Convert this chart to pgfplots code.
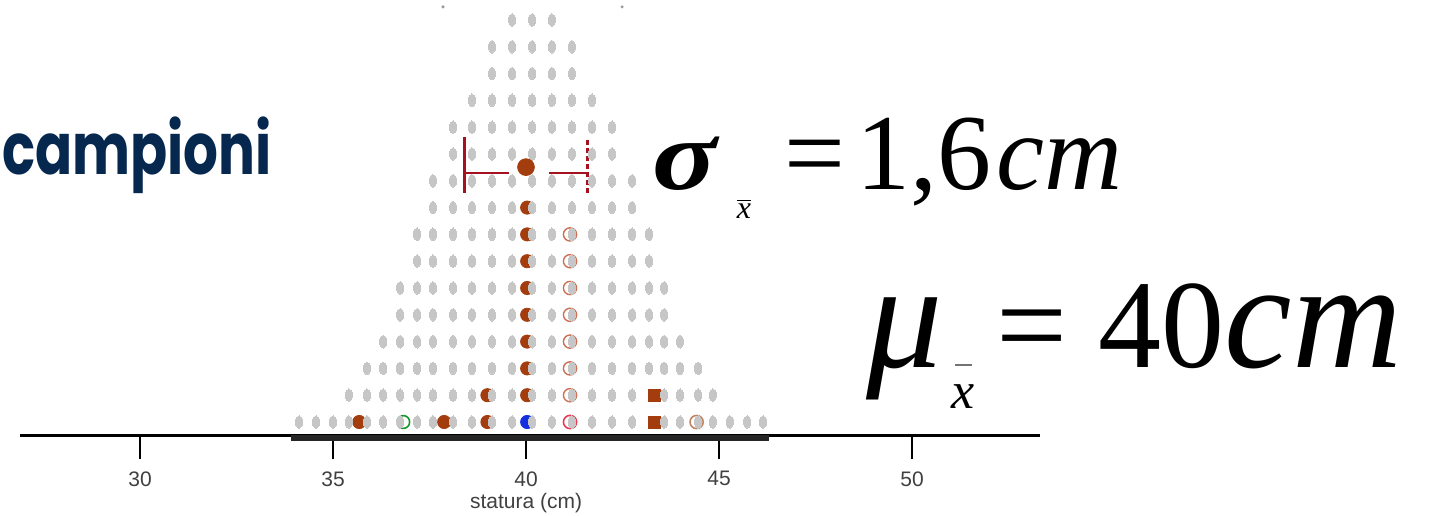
\documentclass[border=0pt]{standalone}
\usepackage{pgfplots}
\pgfplotsset{compat=1.18}
\usepackage{fontspec}
\setmainfont{Liberation Serif}
\newfontfamily\axisfont{Liberation Sans}
\newfontfamily\headfont{Poppins}

\definecolor{dotgray}{HTML}{C6C6C6}
\definecolor{rust}{HTML}{A33D0E}
\definecolor{barred}{HTML}{A3121E}
\definecolor{navy}{HTML}{06284F}
\definecolor{ringsalmon}{HTML}{CC7058}
\definecolor{ringred}{HTML}{E83A55}
\definecolor{ringtan}{HTML}{C08462}
\definecolor{ringgreen}{HTML}{139A2A}
\definecolor{meanblue}{HTML}{1530E0}

\begin{document}
\begin{tikzpicture}
\useasboundingbox (0,0) rectangle (715pt,257.5pt);

\begin{axis}[
  at={(10pt,39.8pt)}, anchor=south west,
  scale only axis, width=510pt, height=217.7pt,
  xmin=26.891, xmax=53.316, ymin=0.5, ymax=16.746,
  clip=false,
  axis x line=bottom, axis y line=none,
  x axis line style={-, line width=1.2pt, black},
  xtick={30,35,40,45,50}, ytick=\empty,
  tick align=outside, major tick length=12pt,
  x tick style={black, line width=1pt},
  /pgf/number format/assume math mode=true,
  xticklabel style={font=\axisfont\fontsize{10.5}{11}\selectfont, text=black!75, yshift=-2.5pt},
  xlabel={statura (cm)},
  xlabel style={font=\axisfont\fontsize{10.5}{11}\selectfont, text=black!75,
    at={(axis description cs:0.4962,0)}, anchor=center, yshift=-34pt},
]

% thick bar under the data range
\addplot[black!85, line width=3pt, forget plot] coordinates {(33.9,0.42) (46.3,0.42)};

% standard-error bar around the mean of the sample means
\addplot[barred, line width=1.4pt] coordinates {(38.4,9.55) (38.4,11.62)};
\addplot[barred, line width=1.4pt, dash pattern=on 2.6pt off 1.4pt] coordinates {(41.6,9.55) (41.6,11.62)};
\addplot[barred, line width=1.4pt] coordinates {(38.4,10.29) (39.55,10.29)};
\addplot[barred, line width=1.4pt] coordinates {(40.6,10.29) (41.6,10.29)};

% highlighted sample means (filled)
\addplot[rust, only marks, mark=*, mark size=3.3pt, mark options={draw=rust, fill=rust}] coordinates {
  (35.68,1) (37.88,1) (39.00,1)
  (39.00,2) (40.03,2)
  (40.03,3) (40.03,4) (40.03,5) (40.03,6) (40.03,7) (40.03,8) (40.03,9)
};
\addplot[rust, only marks, mark=square*, mark size=3pt, mark options={draw=rust, fill=rust}] coordinates {
  (43.32,1) (43.32,2)
};
\addplot[meanblue, only marks, mark=*, mark size=3.3pt, mark options={draw=meanblue, fill=meanblue}] coordinates {(40.03,1)};

% highlighted sample means (rings)
\addplot[ringsalmon, only marks, mark=o, mark size=3.3pt, mark options={line width=0.7pt}] coordinates {
  (41.14,2) (41.14,3) (41.14,4) (41.14,5) (41.14,6) (41.14,7) (41.14,8)
};
\addplot[ringred, only marks, mark=o, mark size=3.3pt, mark options={line width=0.8pt}] coordinates {(41.14,1)};
\addplot[ringtan, only marks, mark=o, mark size=3.3pt, mark options={line width=0.8pt}] coordinates {(44.42,1)};
\addplot[ringgreen, only marks, mark=o, mark size=3.2pt, mark options={line width=0.8pt}] coordinates {(36.82,1)};

% all sample means, stacked in columns
\addplot[dotgray, only marks, mark=*, mark size=3.2pt, mark options={draw=dotgray, fill=dotgray, line width=0pt, xscale=0.55}] coordinates {
  (34.12,1) (34.56,1) (35.00,1) (35.41,1) (35.88,1) (36.30,1) (36.74,1) (37.18,1) (37.59,1)
  (38.11,1) (38.60,1) (39.12,1) (39.64,1) (40.16,1) (40.67,1) (41.19,1) (41.71,1) (42.23,1)
  (42.75,1) (43.58,1) (43.99,1) (44.46,1) (44.84,1) (45.28,1) (45.73,1) (46.14,1)
  (35.41,2) (35.88,2) (36.30,2) (36.74,2) (37.18,2) (37.59,2) (38.11,2) (38.60,2) (39.12,2)
  (39.64,2) (40.16,2) (40.67,2) (41.19,2) (41.71,2) (42.23,2) (42.75,2) (43.58,2) (43.99,2)
  (44.46,2) (44.84,2)
  (35.88,3) (36.30,3) (36.74,3) (37.18,3) (37.59,3) (38.11,3) (38.60,3) (39.12,3) (39.64,3)
  (40.16,3) (40.67,3) (41.19,3) (41.71,3) (42.23,3) (42.75,3) (43.19,3) (43.58,3) (43.99,3)
  (44.46,3)
  (36.30,4) (36.74,4) (37.18,4) (37.59,4) (38.11,4) (38.60,4) (39.12,4) (39.64,4) (40.16,4)
  (40.67,4) (41.19,4) (41.71,4) (42.23,4) (42.75,4) (43.19,4) (43.58,4) (43.99,4)
  (36.74,5) (37.18,5) (37.59,5) (38.11,5) (38.60,5) (39.12,5) (39.64,5) (40.16,5) (40.67,5)
  (41.19,5) (41.71,5) (42.23,5) (42.75,5) (43.19,5) (43.58,5)
  (36.74,6) (37.18,6) (37.59,6) (38.11,6) (38.60,6) (39.12,6) (39.64,6) (40.16,6) (40.67,6)
  (41.19,6) (41.71,6) (42.23,6) (42.75,6) (43.19,6) (43.58,6)
  (37.18,7) (37.59,7) (38.11,7) (38.60,7) (39.12,7) (39.64,7) (40.16,7) (40.67,7) (41.19,7)
  (41.71,7) (42.23,7) (42.75,7) (43.19,7)
  (37.18,8) (37.59,8) (38.11,8) (38.60,8) (39.12,8) (39.64,8) (40.16,8) (40.67,8) (41.19,8)
  (41.71,8) (42.23,8) (42.75,8) (43.19,8)
  (37.59,9) (38.11,9) (38.60,9) (39.12,9) (39.64,9) (40.16,9) (40.67,9) (41.19,9) (41.71,9)
  (42.23,9) (42.75,9)
  (37.59,10) (38.11,10) (38.60,10) (39.12,10) (39.64,10) (40.16,10) (40.67,10) (41.19,10)
  (41.71,10) (42.23,10) (42.75,10)
  (38.11,11) (38.60,11) (39.12,11) (39.64,11) (40.16,11) (40.67,11) (41.19,11) (41.71,11) (42.23,11)
  (38.11,12) (38.60,12) (39.12,12) (39.64,12) (40.16,12) (40.67,12) (41.19,12) (41.71,12) (42.23,12)
  (38.60,13) (39.12,13) (39.64,13) (40.16,13) (40.67,13) (41.19,13) (41.71,13)
  (39.12,14) (39.64,14) (40.16,14) (40.67,14) (41.19,14)
  (39.12,15) (39.64,15) (40.16,15) (40.67,15) (41.19,15)
  (39.64,16) (40.16,16) (40.67,16)
};

% faint specks above the stack
\addplot[black!40, only marks, mark=*, mark size=0.55pt, mark options={draw=black!40, fill=black!40}] coordinates {(37.85,16.49) (42.49,16.49)};

% mean of the sample means
\addplot[rust, only marks, mark=*, mark size=4.2pt, mark options={draw=rust, fill=rust}] coordinates {(40,10.51)};
\end{axis}

% heading fragment
\node[anchor=base west, inner sep=0pt, text=navy, font=\headfont\bfseries\fontsize{36}{40}\selectfont, xscale=0.76]
  at (1pt,170pt) {campioni};

% standard error of the mean
\node[anchor=base west, inner sep=0pt, font=\fontsize{50}{56}\selectfont\bfseries\itshape, xscale=1.2] at (326pt,162.5pt) {σ};
\node[anchor=base, inner sep=0pt, font=\fontsize{16}{18}\selectfont] at (372pt,148.5pt) {$\overline{\mbox{\itshape x}}$};
\node[anchor=base west, inner sep=0pt, font=\fontsize{54}{60}\selectfont] at (392pt,162.5pt)
  {=\hspace{0.1em}1,6\hspace{0.05em}{\itshape cm}};

% mean of the sample means
\node[anchor=base west, inner sep=0pt, font=\fontsize{76}{80}\selectfont\itshape] at (433pt,74pt) {μ};
\draw[black!55, line width=0.8pt] (477.5pt,75pt) -- (486pt,75pt);
\node[anchor=base, inner sep=0pt, font=\fontsize{26}{28}\selectfont\itshape] at (481.5pt,53.5pt) {x};
\node[anchor=base west, inner sep=0pt, font=\fontsize{63}{68}\selectfont] at (498pt,74pt)
  {=\hspace{0.25em}40{\fontsize{76}{80}\selectfont\itshape cm}};
\end{tikzpicture}
\end{document}
